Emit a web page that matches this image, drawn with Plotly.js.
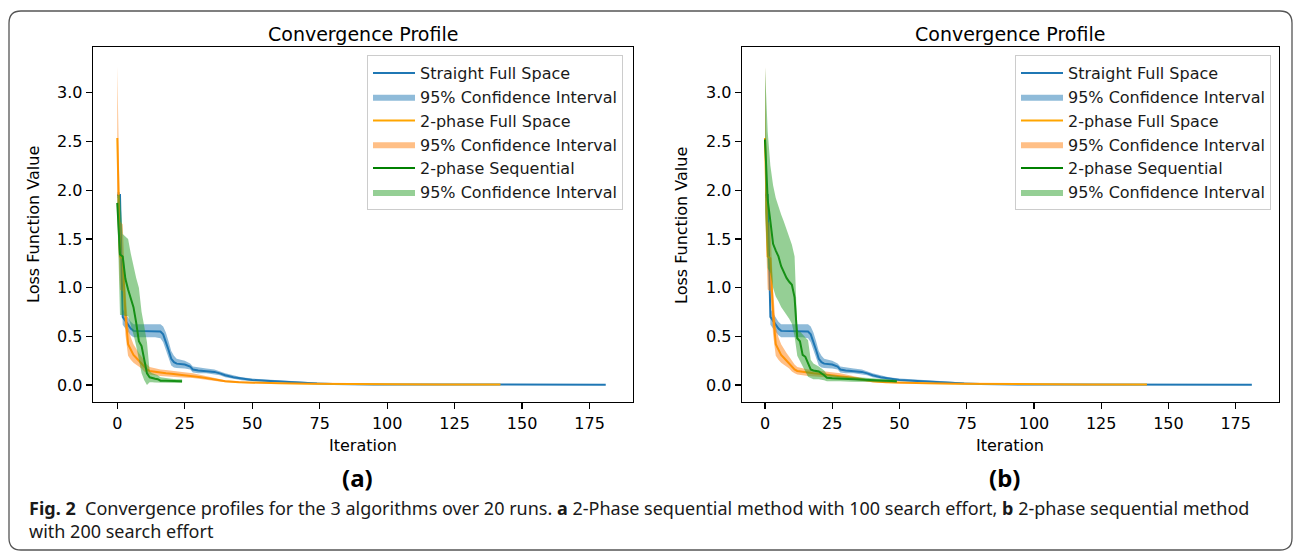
<!DOCTYPE html>
<html>
<head>
<meta charset="utf-8">
<script src="https://cdn.plot.ly/plotly-3.0.1.min.js"></script>
<style>
html,body{margin:0;padding:0;background:#fff;}
#chart{width:1296px;height:554px;}
</style>
</head>
<body>
<div id="chart"></div>
<script>
// ---------- data ----------
// Straight Full Space (same in both panels)
const blueIter = [0,1,2,3,4,5,6,10,14,16,17,18,19,20,21,22,25,27,28,30,33,36,38,40,43,46,50,55,61,67,74,80,86,95,110,130,150,181];
const blueMean = [1.95,1.95,0.70,0.66,0.62,0.58,0.556,0.556,0.556,0.55,0.52,0.45,0.36,0.27,0.235,0.22,0.21,0.19,0.16,0.15,0.145,0.135,0.12,0.10,0.08,0.065,0.052,0.045,0.034,0.025,0.017,0.012,0.007,0.006,0.005,0.004,0.004,0.004];
const blueHigh = [1.98,1.98,0.78,0.74,0.70,0.65,0.625,0.625,0.625,0.625,0.60,0.54,0.45,0.35,0.30,0.27,0.25,0.22,0.19,0.18,0.17,0.16,0.14,0.12,0.10,0.08,0.066,0.057,0.044,0.033,0.023,0.017,0.011,0.009,0.007,0.005,0.005,0.005];
const blueLow  = [1.92,1.92,0.62,0.58,0.54,0.51,0.49,0.49,0.49,0.48,0.44,0.37,0.28,0.20,0.18,0.175,0.17,0.16,0.13,0.12,0.12,0.11,0.10,0.08,0.062,0.05,0.04,0.034,0.025,0.018,0.012,0.008,0.004,0.003,0.003,0.003,0.003,0.003];

// 2-phase Full Space (same in both panels)
const orangeIter = [0,1,2,3,4,5,6,7,8,9,10,11,12,14,16,18,20,24,28,31,34,37,40,45,50,60,70,85,100,120,142];
const orangeMean = [2.535,1.32,1.30,0.74,0.42,0.36,0.31,0.28,0.25,0.22,0.19,0.16,0.145,0.135,0.125,0.12,0.115,0.105,0.095,0.08,0.068,0.052,0.038,0.03,0.024,0.018,0.014,0.01,0.007,0.006,0.005];
const orangeHigh = [3.27,1.68,1.65,0.98,0.60,0.49,0.42,0.37,0.33,0.29,0.25,0.21,0.185,0.17,0.16,0.155,0.15,0.135,0.12,0.10,0.085,0.066,0.05,0.04,0.032,0.024,0.019,0.014,0.01,0.008,0.007];
const orangeLow  = [1.80,0.98,0.96,0.52,0.30,0.26,0.23,0.21,0.19,0.17,0.14,0.12,0.108,0.10,0.093,0.088,0.083,0.078,0.072,0.062,0.052,0.04,0.028,0.021,0.017,0.013,0.01,0.007,0.005,0.004,0.003];

// 2-phase Sequential, panel (a): 100 search effort
const greenIterA = [0,1,2,3,4,5,6,7,8,9,10,11,12,13,14,15,16,18,20,22,24];
const greenMeanA = [1.87,1.34,1.32,1.09,0.98,0.90,0.80,0.64,0.45,0.40,0.26,0.12,0.08,0.07,0.065,0.06,0.045,0.044,0.042,0.04,0.04];
const greenHighA = [1.95,1.95,1.55,1.52,1.50,1.35,1.22,1.10,1.00,0.75,0.60,0.44,0.14,0.12,0.11,0.10,0.08,0.07,0.065,0.06,0.06];
const greenLowA  = [1.79,0.72,0.72,0.71,0.71,0.62,0.52,0.40,0.28,0.12,0.05,0.00,0.03,0.03,0.025,0.025,0.02,0.02,0.02,0.02,0.02];

// 2-phase Sequential, panel (b): 200 search effort
const greenIterB = [0,1,2,3,4,5,6,7,8,9,10,11,12,13,14,15,16,17,18,20,22,23,25,28,32,36,40,45,49];
const greenMeanB = [2.52,1.90,1.68,1.45,1.38,1.32,1.22,1.16,1.10,1.06,1.03,0.90,0.48,0.45,0.31,0.29,0.22,0.16,0.15,0.14,0.10,0.075,0.069,0.065,0.06,0.055,0.05,0.045,0.04];
const greenHighB = [3.26,2.60,2.25,2.05,1.92,1.83,1.75,1.68,1.60,1.52,1.44,1.32,0.56,0.55,0.52,0.50,0.46,0.26,0.22,0.19,0.15,0.11,0.10,0.09,0.085,0.075,0.07,0.06,0.055];
const greenLowB  = [1.78,1.20,1.15,1.00,0.91,0.86,0.80,0.76,0.72,0.68,0.63,0.50,0.30,0.25,0.19,0.14,0.085,0.07,0.06,0.06,0.05,0.04,0.04,0.04,0.035,0.035,0.03,0.03,0.025];

const xTicks = [0,25,50,75,100,125,150,175];
const yTicks = [0.0,0.5,1.0,1.5,2.0,2.5,3.0];
const seriesNames = ['Straight Full Space','2-phase Full Space','2-phase Sequential'];
const ciName = '95% Confidence Interval';
const chartTitle = 'Convergence Profile';
const xTitle = 'Iteration';
const yTitle = 'Loss Function Value';

// ---------- helpers ----------
const W = 1296, H = 554;
const px = v => v / W;
const py = v => 1 - v / H;

function band(xs, hi, lo) {
  return {x: xs.concat(xs.slice().reverse()), y: hi.concat(lo.slice().reverse())};
}

const lineCol = ['#1f77b4', '#ffa500', '#008000'];
const fillCol = ['rgba(31,119,180,0.5)', 'rgba(255,127,14,0.5)', 'rgba(44,160,44,0.5)'];

function panel(xa, ya, leg, sets) {
  const out = [];
  sets.forEach((s, i) => {
    out.push({
      type: 'scatter', mode: 'lines', x: s[0], y: s[1],
      xaxis: xa, yaxis: ya, legend: leg,
      name: seriesNames[i], legendgroup: leg + 'l' + i,
      line: {color: lineCol[i], width: 2},
      hoverinfo: 'skip'
    });
    const b = band(s[0], s[2], s[3]);
    out.push({
      type: 'scatter', mode: 'lines', x: b.x, y: b.y,
      xaxis: xa, yaxis: ya, legend: leg,
      fill: 'toself', fillcolor: fillCol[i],
      line: {width: 0, color: fillCol[i]},
      name: ciName, legendgroup: leg + 'c' + i,
      hoverinfo: 'skip'
    });
  });
  return out;
}

const traces = []
  .concat(panel('x', 'y', 'legend', [
    [blueIter, blueMean, blueHigh, blueLow],
    [orangeIter, orangeMean, orangeHigh, orangeLow],
    [greenIterA, greenMeanA, greenHighA, greenLowA]
  ]))
  .concat(panel('x2', 'y2', 'legend2', [
    [blueIter, blueMean, blueHigh, blueLow],
    [orangeIter, orangeMean, orangeHigh, orangeLow],
    [greenIterB, greenMeanB, greenHighB, greenLowB]
  ]));

const tickFont = {family: 'DejaVu Sans', size: 16, color: '#000'};
function xAxis(dom, rng, anchor) {
  return {
    domain: dom, range: rng, anchor: anchor,
    tickmode: 'array', tickvals: xTicks, ticktext: xTicks.map(String),
    ticks: 'outside', ticklen: 6, tickwidth: 1.3, tickcolor: '#000',
    showline: true, linecolor: '#000', linewidth: 1.3, mirror: true,
    showgrid: false, zeroline: false, tickfont: tickFont
  };
}
function yAxis(dom, rng, anchor) {
  return {
    domain: dom, range: rng, anchor: anchor,
    tickmode: 'array', tickvals: yTicks, ticktext: yTicks.map(v => v.toFixed(1)),
    ticks: 'outside', ticklen: 6, tickwidth: 1.3, tickcolor: '#000',
    showline: true, linecolor: '#000', linewidth: 1.3, mirror: true,
    showgrid: false, zeroline: false, tickfont: tickFont
  };
}

const legendStyle = (x) => ({
  x: px(x), y: py(55), xanchor: 'left', yanchor: 'top',
  bgcolor: 'rgba(255,255,255,0.85)', bordercolor: '#cccccc', borderwidth: 1,
  font: {family: 'DejaVu Sans', size: 16, color: '#1a1a1a'},
  traceorder: 'normal', tracegroupgap: 1.5, itemwidth: 42
});

const yDom = [1 - 402 / H, 1 - 47 / H];

// rounded frame around the whole figure
const bx0 = px(9), bx1 = px(1292), byT = py(11), byB = py(550);
const rx = 12 / W, ry = 12 / H;
const framePath = `M ${bx0 + rx},${byT} L ${bx1 - rx},${byT} Q ${bx1},${byT} ${bx1},${byT - ry} ` +
  `L ${bx1},${byB + ry} Q ${bx1},${byB} ${bx1 - rx},${byB} L ${bx0 + rx},${byB} ` +
  `Q ${bx0},${byB} ${bx0},${byB + ry} L ${bx0},${byT - ry} Q ${bx0},${byT} ${bx0 + rx},${byT} Z`;

function ann(text, x, y, opts) {
  return Object.assign({
    text: text, x: px(x), y: py(y), xref: 'paper', yref: 'paper',
    showarrow: false, xanchor: 'center', yanchor: 'middle',
    font: {family: 'DejaVu Sans', size: 16, color: '#000'}
  }, opts || {});
}

const capFont = {family: 'Noto Sans', size: 18, color: '#1a1a1a'};
const annotations = [
  ann(chartTitle, 363, 34, {font: {family: 'DejaVu Sans', size: 19, color: '#000'}}),
  ann(chartTitle, 1010, 34, {font: {family: 'DejaVu Sans', size: 19, color: '#000'}}),
  ann(xTitle, 363, 445),
  ann(xTitle, 1010, 445),
  ann(yTitle, 33, 225, {textangle: -90}),
  ann(yTitle, 681, 225, {textangle: -90}),
  ann('<b>(a)</b>', 357, 477, {font: {family: 'Noto Sans', size: 24, color: '#000'}}),
  ann('<b>(b)</b>', 1005, 477, {font: {family: 'Noto Sans', size: 24, color: '#000'}}),
  ann('<b>Fig. 2</b>&nbsp;&nbsp;Convergence profiles for the 3 algorithms over 20 runs. <b>a</b> 2-Phase sequential method with 100 search effort, <b>b</b> 2-phase sequential method',
      27, 508, {xanchor: 'left', font: capFont}),
  ann('with 200 search effort', 27, 531, {xanchor: 'left', font: capFont})
];

const layout = {
  width: W, height: H,
  margin: {l: 0, r: 0, t: 0, b: 0, pad: 0},
  paper_bgcolor: '#fff', plot_bgcolor: '#fff',
  showlegend: true,
  xaxis: xAxis([px(93), px(633)], [-9.0, 191.1], 'y'),
  yaxis: yAxis(yDom, [-0.174, 3.47], 'x'),
  xaxis2: xAxis([px(742), px(1279)], [-8.55, 191.1], 'y2'),
  yaxis2: yAxis(yDom, [-0.174, 3.47], 'x2'),
  legend: legendStyle(367),
  legend2: legendStyle(1015),
  annotations: annotations,
  shapes: [{type: 'path', xref: 'paper', yref: 'paper', path: framePath,
            line: {color: '#555', width: 1.3}, fillcolor: 'rgba(0,0,0,0)'}]
};

Plotly.newPlot('chart', traces, layout, {staticPlot: true, displayModeBar: false});
</script>
</body>
</html>
